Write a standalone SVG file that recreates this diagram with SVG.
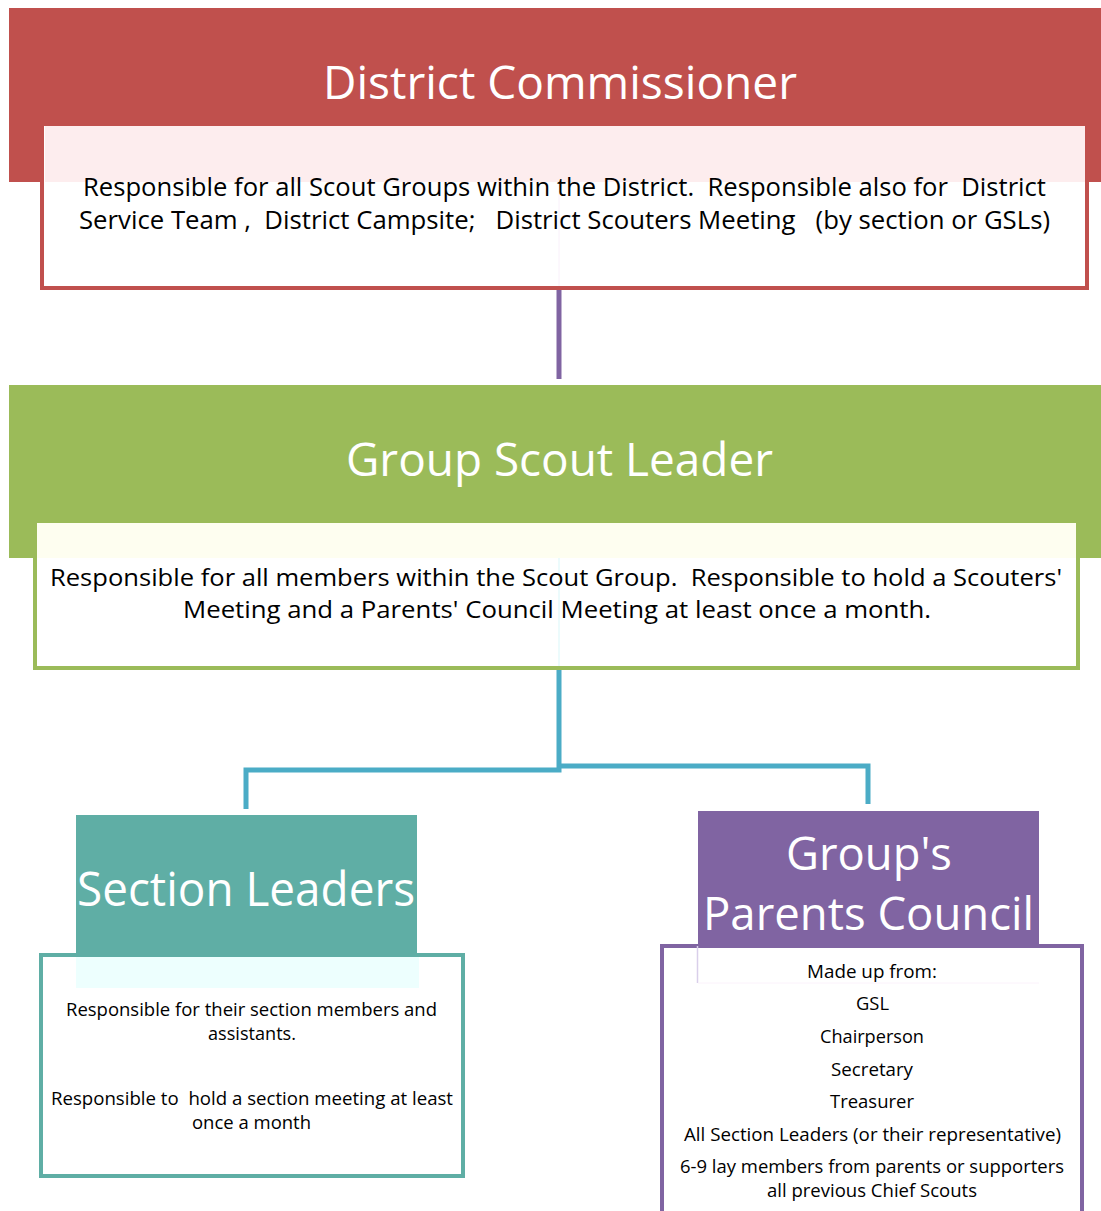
<svg xmlns="http://www.w3.org/2000/svg" width="1101" height="1211" viewBox="0 0 1101 1211">
<style>
.t{font-family:"Open Sans","Noto Sans","Liberation Sans",sans-serif;fill:#fff;white-space:pre}
.b{font-family:"Open Sans","Noto Sans","Liberation Sans",sans-serif;fill:#000;white-space:pre}
.box{fill:#fff;stroke-width:4}
.con{fill:none;stroke-width:5}
</style>
<rect x="0" y="0" width="1101" height="1211" fill="#fff"/>
<g id="connectors">
<line class="con" x1="559" y1="290" x2="559" y2="379" stroke="#8064A2"/>
<polyline class="con" points="246,809 246,770 559,770 559,670" stroke="#4BACC6"/>
<polyline class="con" points="559,766 868,766 868,804" stroke="#4BACC6"/>
</g>
<g id="district-commissioner">
<rect x="9" y="8" width="1092" height="174" fill="#C0504D"/>
<rect class="box" x="42" y="124" width="1045" height="164" stroke="#C0504D"/>
<rect x="45" y="126" width="1040" height="56" fill="#FDEDEE"/>
<line x1="559" y1="182" x2="559" y2="286" stroke="#F9F0FA" stroke-width="1"/>
<text class="t" x="323" y="99" font-size="46" textLength="474" lengthAdjust="spacingAndGlyphs">District Commissioner</text>
<text class="b" x="83" y="196" font-size="25" textLength="963" lengthAdjust="spacingAndGlyphs">Responsible for all Scout Groups within the District.  Responsible also for  District</text>
<text class="b" x="79" y="229" font-size="25" textLength="971" lengthAdjust="spacingAndGlyphs">Service Team ,  District Campsite;   District Scouters Meeting   (by section or GSLs)</text>
</g>
<g id="group-scout-leader">
<rect x="9" y="385" width="1092" height="173" fill="#9BBB59"/>
<rect class="box" x="35" y="521" width="1043" height="147" stroke="#9BBB59"/>
<rect x="37" y="523" width="1039" height="35" fill="#FEFEF0"/>
<line x1="559" y1="558" x2="559" y2="666" stroke="#E6FAFB" stroke-width="1.5"/>
<text class="t" x="346" y="476" font-size="46" textLength="427" lengthAdjust="spacingAndGlyphs">Group Scout Leader</text>
<text class="b" x="50" y="586" font-size="24" textLength="1012" lengthAdjust="spacingAndGlyphs">Responsible for all members within the Scout Group.  Responsible to hold a Scouters'</text>
<text class="b" x="183" y="618" font-size="24" textLength="748" lengthAdjust="spacingAndGlyphs">Meeting and a Parents' Council Meeting at least once a month.</text>
</g>
<g id="section-leaders">
<rect class="box" x="41" y="955" width="422" height="221" stroke="#5FAEA5"/>
<rect x="76" y="815" width="341" height="142" fill="#5FAEA5"/>
<rect x="76" y="957" width="343" height="31" fill="#EDFFFE"/>
<text class="t" x="77" y="906" font-size="48" textLength="338" lengthAdjust="spacingAndGlyphs">Section Leaders</text>
<text class="b" x="66" y="1016" font-size="18" textLength="371" lengthAdjust="spacingAndGlyphs">Responsible for their section members and</text>
<text class="b" x="208" y="1040" font-size="18" textLength="88" lengthAdjust="spacingAndGlyphs">assistants.</text>
<text class="b" x="51" y="1105" font-size="18" textLength="402" lengthAdjust="spacingAndGlyphs">Responsible to  hold a section meeting at least</text>
<text class="b" x="192" y="1129" font-size="18" textLength="119" lengthAdjust="spacingAndGlyphs">once a month</text>
</g>
<g id="parents-council">
<rect class="box" x="662" y="946" width="420" height="290" stroke="#8064A2"/>
<rect x="698" y="811" width="341" height="135" fill="#8064A2"/>
<line x1="697.5" y1="946" x2="697.5" y2="983" stroke="#D9CFEA" stroke-width="1.5"/>
<line x1="698" y1="983" x2="1039" y2="983" stroke="#FBF2FB" stroke-width="1"/>
<text class="t" x="786" y="870" font-size="46" textLength="166" lengthAdjust="spacingAndGlyphs">Group's</text>
<text class="t" x="703" y="930" font-size="46" textLength="331" lengthAdjust="spacingAndGlyphs">Parents Council</text>
<text class="b" x="807" y="978" font-size="18" textLength="130" lengthAdjust="spacingAndGlyphs">Made up from:</text>
<text class="b" x="856" y="1010" font-size="18" textLength="33" lengthAdjust="spacingAndGlyphs">GSL</text>
<text class="b" x="820" y="1043" font-size="18" textLength="104" lengthAdjust="spacingAndGlyphs">Chairperson</text>
<text class="b" x="831" y="1076" font-size="18" textLength="82" lengthAdjust="spacingAndGlyphs">Secretary</text>
<text class="b" x="830" y="1108" font-size="18" textLength="84" lengthAdjust="spacingAndGlyphs">Treasurer</text>
<text class="b" x="684" y="1141" font-size="18" textLength="377" lengthAdjust="spacingAndGlyphs">All Section Leaders (or their representative)</text>
<text class="b" x="680" y="1173" font-size="18" textLength="384" lengthAdjust="spacingAndGlyphs">6-9 lay members from parents or supporters</text>
<text class="b" x="767" y="1197" font-size="18" textLength="210" lengthAdjust="spacingAndGlyphs">all previous Chief Scouts</text>
</g>
</svg>
